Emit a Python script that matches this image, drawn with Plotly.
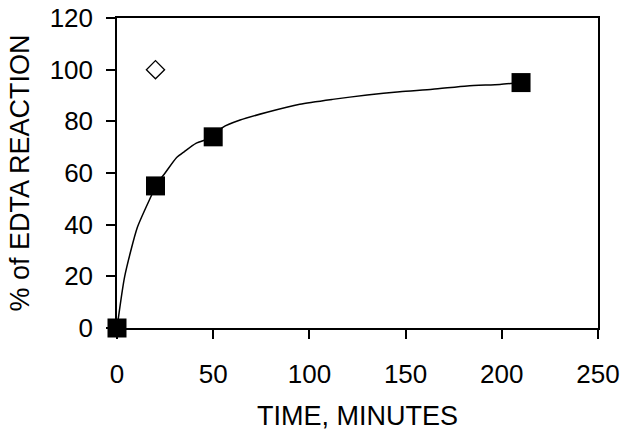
import plotly.graph_objects as go

# Measured data (squares)
time_min = [0, 20, 50, 210]
edta_pct = [0, 55, 74, 95]

# Open diamond point
diamond_time = [20]
diamond_pct = [100]

# Smooth fitted curve
curve_time = [0, 4, 10.6, 18, 20, 25, 31, 35, 41, 50, 55, 64, 78, 95, 112, 130, 147, 164, 182, 199, 210]
curve_pct = [0, 20, 39, 51.5, 55, 60, 66, 68.3, 71.5, 74, 77.7, 80.5, 83.5, 86.6, 88.5, 90.2, 91.5, 92.4, 93.7, 94.3, 95]

x_ticks = [0, 50, 100, 150, 200, 250]
y_ticks = [0, 20, 40, 60, 80, 100, 120]

FONT = "Liberation Sans, Arial, sans-serif"

fig = go.Figure()
fig.add_trace(go.Scatter(x=curve_time, y=curve_pct, mode="lines",
                         line=dict(color="black", width=1.5, shape="spline", smoothing=0.6),
                         hoverinfo="skip", showlegend=False))
fig.add_trace(go.Scatter(x=time_min, y=edta_pct, mode="markers",
                         marker=dict(symbol="square", size=19, color="black", line=dict(width=0)),
                         cliponaxis=False, showlegend=False))
fig.add_trace(go.Scatter(x=diamond_time, y=diamond_pct, mode="markers",
                         marker=dict(symbol="diamond-open", size=14, color="black", line=dict(width=1.3)),
                         cliponaxis=False, showlegend=False))

fig.update_layout(
    width=629, height=438,
    margin=dict(l=117, r=31, t=18, b=110, autoexpand=False),
    paper_bgcolor="white", plot_bgcolor="white",
    font=dict(family=FONT, color="black", size=26),
    showlegend=False,
)
fig.update_xaxes(
    range=[0, 250], tickvals=x_ticks, ticktext=[str(v) for v in x_ticks],
    showgrid=False, zeroline=False, automargin=False,
    showline=True, linecolor="black", linewidth=1.5, mirror=True,
    ticks="outside", ticklen=9, tickwidth=1.5, tickcolor="black",
    tickfont=dict(size=26), ticklabelstandoff=13,
    title=dict(text="TIME, MINUTES", font=dict(size=27), standoff=18),
)
fig.update_yaxes(
    range=[0, 120], tickvals=y_ticks, ticktext=[str(v) for v in y_ticks],
    showgrid=False, zeroline=False, automargin=False,
    showline=True, linecolor="black", linewidth=1.5, mirror=True,
    ticks="outside", ticklen=9, tickwidth=1.5, tickcolor="black",
    tickfont=dict(size=26), ticklabelstandoff=8,
    title=dict(text="% of EDTA REACTION", font=dict(size=27), standoff=12),
)

fig.write_html("out.html", config={"displayModeBar": False},
               post_script="document.body.style.margin='0px';")
